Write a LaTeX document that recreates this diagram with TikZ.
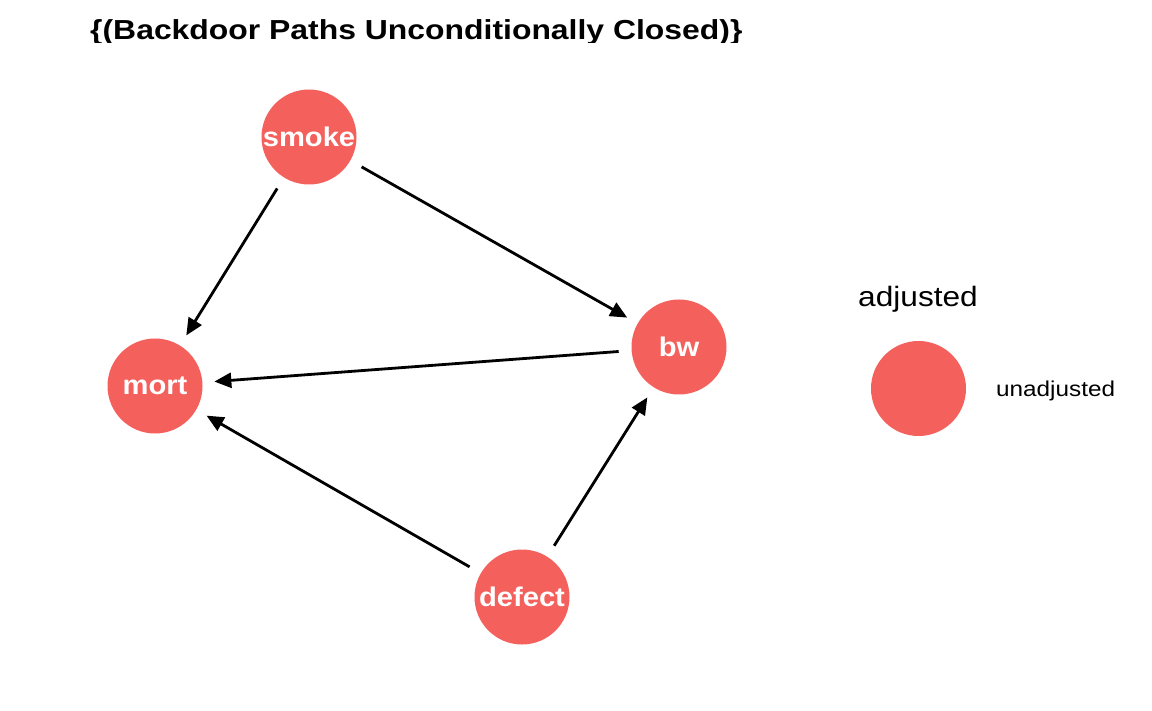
\documentclass[tikz,border=0pt]{standalone}
\usepackage{fontspec}
\newfontfamily\titlefont[FakeStretch=1.16]{Liberation Sans}
\newfontfamily\nodefont[FakeStretch=1.08]{Liberation Sans}
\newfontfamily\legfont[FakeStretch=1.13]{Liberation Sans}
\usetikzlibrary{arrows.meta}
\definecolor{nodered}{RGB}{244,96,92}
\begin{document}
\begin{tikzpicture}[x=1pt,y=-1pt,
  dagnode/.style={circle,fill=nodered,draw=none,minimum size=95pt,inner sep=0pt,outer sep=0pt,
    text=white,font=\nodefont\bfseries\fontsize{27}{30}\selectfont},
  dagedge/.style={draw=black,line width=2.8pt,-{Triangle[length=17pt,width=15pt]},
    shorten >=12pt,shorten <=13pt}]
\useasboundingbox[fill=white] (0,0) rectangle (1152,711);
\begin{scope}
\clip (0,0) rectangle (1152,43);
\node[anchor=base west,inner sep=0pt,font=\titlefont\bfseries\fontsize{27.5}{30}\selectfont] (title) at (90,40) {\{(Backdoor Paths Unconditionally Closed)\}};
\end{scope}
\node[dagnode] (smoke) at (309,137) {smoke};
\node[dagnode] (mort) at (155,386) {mort};
\node[dagnode] (bw) at (679,347) {bw};
\node[dagnode] (defect) at (522,597) {defect};
\draw[dagedge] (smoke) -- (mort);
\draw[dagedge] (smoke) -- (bw);
\draw[dagedge] (bw) -- (mort);
\draw[dagedge] (defect) -- (mort);
\draw[dagedge] (defect) -- (bw);
\node[anchor=base west,inner sep=0pt,font=\legfont\fontsize{28}{32}\selectfont] (legtitle) at (858,307) {adjusted};
\node[circle,fill=nodered,minimum size=95pt,inner sep=0pt] (legkey) at (918.5,388.5) {};
\node[anchor=base west,inner sep=0pt,font=\legfont\fontsize{21.5}{24}\selectfont] (leglabel) at (996,397) {unadjusted};
\end{tikzpicture}
\end{document}
